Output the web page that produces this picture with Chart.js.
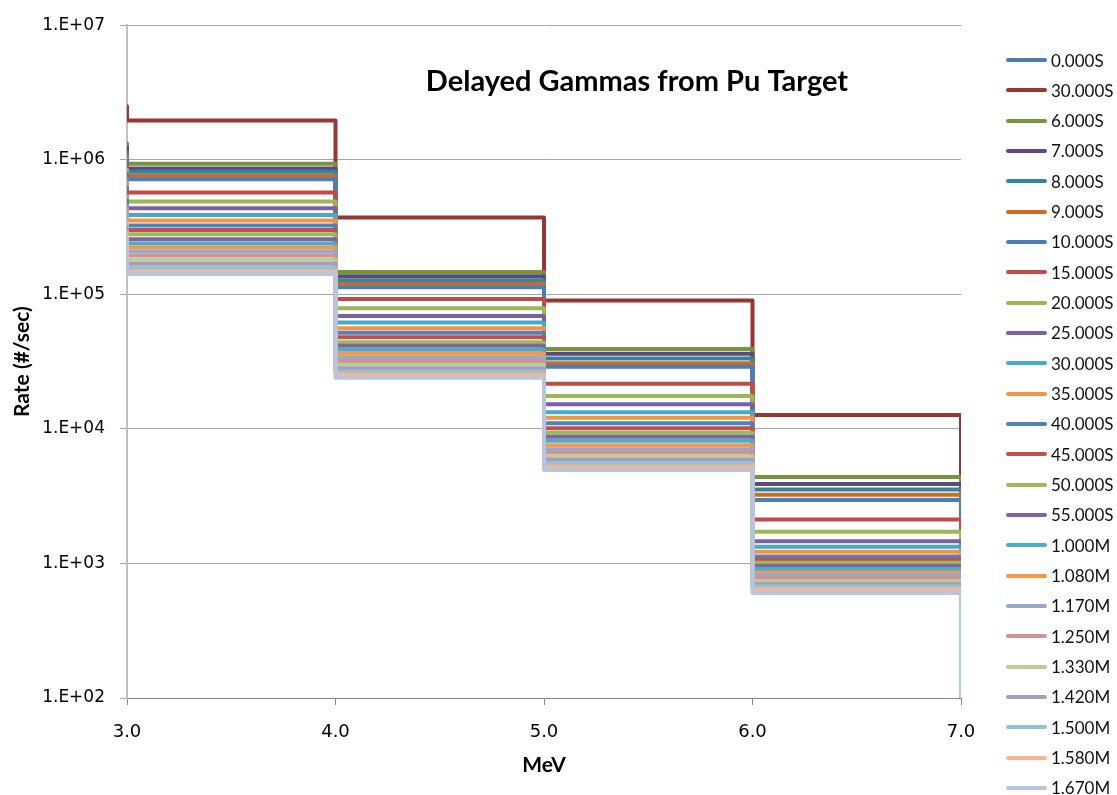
<!DOCTYPE html>
<html lang="pt-BR">
<head>
<meta charset="UTF-8">
<title>Delayed Gammas from Pu Target</title>
<script src="https://cdn.jsdelivr.net/npm/chart.js@4.4.1/dist/chart.umd.min.js"></script>
<style>
    html, body { margin: 0; padding: 0; background: #fff; }
    #grafico-container { position: relative; width: 1117px; height: 795px; overflow: hidden; }
    .item-legenda {
        position: absolute;
        left: 1006px;
        height: 20px;
        display: flex;
        align-items: center;
        font-family: Lato, "Open Sans", sans-serif;
        font-size: 17px;
        color: #111;
        white-space: nowrap;
    }
    .item-legenda .linha { display: inline-block; width: 41px; height: 4px; border-radius: 2px; margin-right: 4px; }
</style>
</head>
<body>
<div id="grafico-container">
    <canvas id="grafico" width="1117" height="795"></canvas>
    <div id="legenda"></div>
</div>
<script>
// Gráfico de degraus: taxa de gamas atrasados por faixa de energia (MeV)

// Rótulos das séries (tempo de decaimento), na ordem da legenda
const rotulos = ['0.000S', '30.000S', '6.000S', '7.000S', '8.000S', '9.000S', '10.000S', '15.000S',
    '20.000S', '25.000S', '30.000S', '35.000S', '40.000S', '45.000S', '50.000S', '55.000S',
    '1.000M', '1.080M', '1.170M', '1.250M', '1.330M', '1.420M', '1.500M', '1.580M', '1.670M'];

// Limites das faixas de energia (MeV)
const energias = [3, 4, 5, 6, 7];

// Valor no início da curva (x = 3.0)
const inicio = [null, 2.5e6, 1.32e6, 1.225e6, 1.137e6, 1.055e6, 9.78e5, 9.07e5, 8.42e5, 7.81e5, 7.24e5,
    6.72e5, 6.23e5, 5.78e5, 5.36e5, 4.98e5, 4.62e5, 4.28e5, 3.97e5, 3.69e5, 3.42e5, 3.17e5, 2.94e5, 2.73e5, 2.53e5];

// Taxa (#/sec) em cada faixa
const faixa3a4 = [null, 1.955e6, 9.34e5, 8.62e5, 8.15e5, 7.61e5, 7.15e5, 5.72e5, 4.89e5, 4.36e5, 3.89e5,
    3.53e5, 3.24e5, 3.01e5, 2.80e5, 2.57e5, 2.39e5, 2.23e5, 2.08e5, 1.945e5, 1.81e5, 1.69e5, 1.566e5, 1.48e5, 1.414e5];
const faixa4a5 = [null, 3.72e5, 1.463e5, 1.36e5, 1.27e5, 1.20e5, 1.127e5, 9.23e4, 7.88e4, 6.91e4, 6.17e4,
    5.60e4, 5.17e4, 4.80e4, 4.41e4, 4.14e4, 3.87e4, 3.61e4, 3.375e4, 3.19e4, 2.995e4, 2.815e4, 2.675e4, 2.54e4, 2.40e4];
const faixa5a6 = [null, 8.98e4, 3.93e4, 3.61e4, 3.34e4, 3.08e4, 2.89e4, 2.165e4, 1.755e4, 1.524e4, 1.33e4,
    1.212e4, 1.102e4, 1.012e4, 9.34e3, 8.73e3, 8.15e3, 7.57e3, 7.07e3, 6.67e3, 6.23e3, 5.89e3, 5.57e3, 5.23e3, 4.94e3];
const faixa6a7 = [null, 1.27e4, 4.39e3, 3.89e3, 3.55e3, 3.245e3, 2.965e3, 2.12e3, 1.717e3, 1.463e3, 1.33e3,
    1.221e3, 1.127e3, 1.07e3, 1.012e3, 9.62e2, 9.08e2, 8.58e2, 8.19e2, 7.78e2, 7.36e2, 7.03e2, 6.75e2, 6.39e2, 6.03e2];

// Depois de 7.0 MeV a curva cai abaixo do eixo
const valorFinal = 1;

// Marcas do eixo Y (décadas)
const marcasY = [1e2, 1e3, 1e4, 1e5, 1e6, 1e7];

// Cores das séries (paleta do Excel)
const cores = ['#4A7EBB', '#953735', '#77933C', '#5F497A', '#31859C', '#CE6A23', '#4A7EBB', '#BE4B48',
    '#98B954', '#7D60A0', '#46AAC5', '#F69240', '#4F81BD', '#C0504D', '#9BBB59', '#8064A2',
    '#4BACC6', '#F79646', '#93A9CF', '#D19392', '#B9CD96', '#A99BBD', '#92C3D4', '#F9B590', '#B7C5DE'];

// Monta os pontos do degrau de uma série
function montarDegraus(i) {
    const niveis = [faixa3a4[i], faixa4a5[i], faixa5a6[i], faixa6a7[i]];
    if (inicio[i] === null || niveis.some(v => v === null)) {
        return [];
    }
    const pontos = [{ x: energias[0], y: inicio[i] }];
    niveis.forEach((v, k) => {
        pontos.push({ x: energias[k], y: v });
        pontos.push({ x: energias[k + 1], y: v });
    });
    pontos.push({ x: energias[energias.length - 1], y: valorFinal });
    return pontos;
}

// Formata 1e7 como "1.E+07"
function formatarExpoente(valor) {
    const expoente = Math.round(Math.log10(valor));
    return '1.E+' + String(expoente).padStart(2, '0');
}

// Título desenhado dentro da área do gráfico
const tituloInterno = {
    id: 'tituloInterno',
    afterDraw(chart, args, opts) {
        const ctx = chart.ctx;
        ctx.save();
        ctx.font = opts.fonte;
        ctx.fillStyle = opts.cor;
        ctx.textAlign = 'center';
        ctx.textBaseline = 'middle';
        ctx.fillText(opts.texto, opts.x, opts.y);
        ctx.restore();
    }
};

const datasets = rotulos.map((rotulo, i) => ({
    label: rotulo,
    data: montarDegraus(i),
    borderColor: cores[i],
    backgroundColor: cores[i],
    borderWidth: 4,
    borderJoinStyle: 'round',
    pointRadius: 0,
    fill: false,
    tension: 0,
    order: -i // a última série fica por cima, como no Excel
}));

const ctx = document.getElementById('grafico').getContext('2d');
new Chart(ctx, {
    type: 'line',
    data: { datasets: datasets },
    plugins: [tituloInterno],
    options: {
        responsive: false,
        devicePixelRatio: 1,
        animation: false,
        layout: { padding: { top: 23, right: 156, bottom: 0, left: 0 } },
        plugins: {
            legend: { display: false },
            tooltip: { enabled: false },
            tituloInterno: {
                texto: 'Delayed Gammas from Pu Target',
                x: 637,
                y: 82,
                fonte: 'bold 29px Lato',
                cor: '#000'
            }
        },
        scales: {
            x: {
                type: 'linear',
                min: 3,
                max: 7,
                afterFit: escala => { escala.height = 97; },
                ticks: {
                    stepSize: 1,
                    maxRotation: 0,
                    padding: 17,
                    color: '#000',
                    font: { family: 'DejaVu Sans', size: 18 },
                    callback: v => Number(v).toFixed(1)
                },
                grid: { drawOnChartArea: false, color: '#868686', tickLength: 7 },
                border: { color: '#868686' },
                title: {
                    display: true,
                    text: 'MeV',
                    color: '#000',
                    font: { family: 'Lato', weight: 'bold', size: 21 },
                    padding: { top: 0, bottom: 17 }
                }
            },
            y: {
                type: 'logarithmic',
                min: 1e2,
                max: 1e7,
                afterFit: escala => { escala.width = 127; },
                afterBuildTicks: escala => { escala.ticks = marcasY.map(v => ({ value: v })); },
                ticks: {
                    padding: 15,
                    color: '#000',
                    font: { family: 'DejaVu Sans', size: 17 },
                    callback: v => formatarExpoente(v)
                },
                grid: { color: '#a6a6a6', tickLength: 7 },
                border: { color: '#c0c0c0', width: 2 },
                title: {
                    display: true,
                    text: 'Rate (#/sec)',
                    color: '#000',
                    font: { family: 'Lato', weight: 'bold', size: 21 },
                    padding: { top: 10, bottom: 0 }
                }
            }
        }
    }
});

// Legenda em HTML, uma linha por série
const legenda = document.getElementById('legenda');
rotulos.forEach((rotulo, i) => {
    const item = document.createElement('div');
    item.className = 'item-legenda';
    item.style.top = (60 + 30.33 * i - 10) + 'px';
    item.innerHTML = `<span class="linha" style="background:${cores[i]}"></span>${rotulo}`;
    legenda.appendChild(item);
});
</script>
</body>
</html>
